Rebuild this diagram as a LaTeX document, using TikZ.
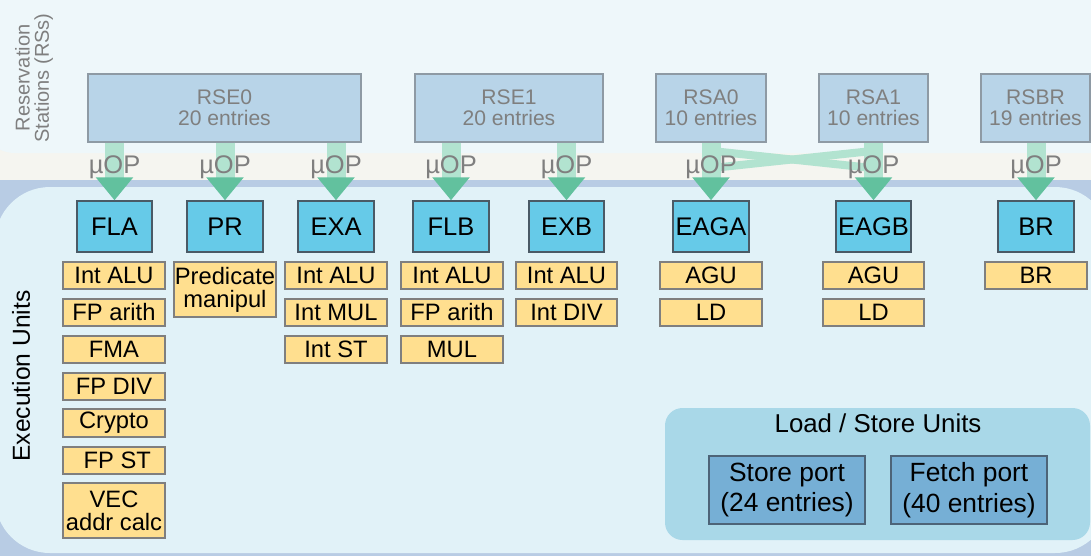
\documentclass[tikz,border=0pt]{standalone}
\usepackage{fontspec}
\setmainfont{Liberation Sans}
\usetikzlibrary{arrows.meta}
\definecolor{topbg}{HTML}{EEF7FA}
\definecolor{beige}{HTML}{F5F5F0}
\definecolor{stripe}{HTML}{B8CCE4}
\definecolor{lowbg}{HTML}{E1F2F8}
\definecolor{lsbg}{HTML}{A9D8E8}
\definecolor{rsfill}{HTML}{B8D4E8}
\definecolor{rsborder}{HTML}{8E9AA4}
\definecolor{graytext}{HTML}{7F7F7F}
\definecolor{eufill}{HTML}{66CAE8}
\definecolor{euborder}{HTML}{4A5A66}
\definecolor{opfill}{HTML}{FFDF8F}
\definecolor{opborder}{HTML}{7F7F7F}
\definecolor{portfill}{HTML}{76AFD5}
\definecolor{portborder}{HTML}{4D6478}
\definecolor{shaft}{HTML}{B2E3D0}
\definecolor{tipgreen}{HTML}{62C19E}
\newcommand\bx[7]{%
  \pgfmathsetmacro\bw{(#4-#2)*0.02}%
  \pgfmathsetmacro\bh{(#5-#3)*0.02}%
  \node[#6,minimum width=\bw cm,minimum height=\bh cm] (#1) at ({(#2+#4)/2},{(#3+#5)/2}) {#7};}
\begin{document}
\begin{tikzpicture}[x=0.02cm,y=-0.02cm,
  rsbox/.style={draw=rsborder,fill=rsfill,text=graytext,line width=0.8pt,inner sep=0pt,align=center,font=\fontsize{12}{12}\selectfont},
  eubox/.style={draw=euborder,fill=eufill,line width=0.8pt,inner sep=0pt,font=\fontsize{14.5}{15}\selectfont},
  opbox/.style={draw=opborder,fill=opfill,line width=0.8pt,inner sep=0pt,align=center,font=\fontsize{13.5}{13}\selectfont},
  portbox/.style={draw=portborder,fill=portfill,line width=0.8pt,inner sep=0pt,align=center,font=\fontsize{15}{17.5}\selectfont},
  uop/.style={draw=shaft,line width=0.38cm,-{Triangle[width=0.72cm,length=0.46cm,fill=tipgreen,color=tipgreen]}},
  crossline/.style={draw=shaft,line width=0.16cm},
  uoplabel/.style={text=graytext,anchor=base,inner sep=0pt,font=\fontsize{14.5}{15}\selectfont}]
\useasboundingbox (0,0) rectangle (1091,556);
% backgrounds
\fill[beige] (0,0) rectangle (1091,556);
\fill[stripe] (0,180) rectangle (1091,556);
\fill[topbg,rounded corners=0.7cm] (-20,-40) rectangle (1130,153);
\fill[lowbg,rounded corners=1.1cm] (-5,187) rectangle (1110,553);
\fill[lsbg,rounded corners=0.35cm] (665,408) rectangle (1090,540);
% side labels
\node[rotate=90,text=graytext,align=center,inner sep=0pt,font=\fontsize{11.4}{11}\selectfont] (rslabel) at (34,78) {Reservation\\Stations (RSs)};
\node[rotate=90,inner sep=0pt,font=\fontsize{14}{15}\selectfont] (eulabel) at (21,376) {Execution Units};
% reservation stations
\bx{rse0}{88}{74}{361}{142}{rsbox}{RSE0\\20 entries}
\bx{rse1}{415}{74}{603}{142}{rsbox}{RSE1\\20 entries}
\bx{rsa0}{656}{74}{766}{142}{rsbox}{RSA0\\10 entries}
\bx{rsa1}{819}{74}{928}{142}{rsbox}{RSA1\\10 entries}
\bx{rsbr}{981}{74}{1090}{142}{rsbox}{RSBR\\19 entries}
% execution units
\bx{fla}{77}{201}{152}{252}{eubox}{FLA}
\bx{pr}{187}{201}{263}{252}{eubox}{PR}
\bx{exa}{298}{201}{374}{252}{eubox}{EXA}
\bx{flb}{413}{201}{489}{252}{eubox}{FLB}
\bx{exb}{529}{201}{604}{252}{eubox}{EXB}
\bx{eaga}{673}{201}{749}{252}{eubox}{EAGA}
\bx{eagb}{836}{201}{911}{252}{eubox}{EAGB}
\bx{br}{998}{201}{1074}{252}{eubox}{BR}
% operations
\bx{fla1}{63}{262}{165}{289}{opbox}{Int ALU}
\bx{fla2}{63}{299}{165}{326}{opbox}{FP arith}
\bx{fla3}{63}{336}{165}{363}{opbox}{FMA}
\bx{fla4}{63}{373}{165}{400}{opbox}{FP DIV}
\bx{fla5}{63}{409}{165}{437}{opbox}{Crypto}
\bx{fla6}{63}{447}{165}{474}{opbox}{\ FP ST}
\bx{fla7}{63}{483}{165}{538}{opbox}{VEC\\addr calc}
\bx{pr1}{174}{262}{276}{317}{opbox}{Predicate\\manipul}
\bx{exa1}{285}{262}{387}{289}{opbox}{Int ALU}
\bx{exa2}{285}{299}{387}{326}{opbox}{Int MUL}
\bx{exa3}{285}{336}{387}{363}{opbox}{Int ST}
\bx{flb1}{401}{262}{503}{289}{opbox}{Int ALU}
\bx{flb2}{401}{299}{503}{326}{opbox}{FP arith}
\bx{flb3}{401}{336}{503}{363}{opbox}{MUL}
\bx{exb1}{516}{262}{617}{289}{opbox}{Int ALU}
\bx{exb2}{516}{299}{617}{326}{opbox}{Int DIV}
\bx{eaga1}{660}{262}{762}{289}{opbox}{AGU}
\bx{eaga2}{660}{299}{762}{326}{opbox}{LD}
\bx{eagb1}{823}{262}{924}{289}{opbox}{AGU}
\bx{eagb2}{823}{299}{924}{326}{opbox}{LD}
\bx{br1}{985}{262}{1087}{289}{opbox}{BR}
% load / store
\node[anchor=base,inner sep=0pt,font=\fontsize{14.7}{15}\selectfont] (lslabel) at (878,432) {Load / Store Units};
\bx{store}{709}{456}{865}{524}{portbox}{Store port\\(24 entries)}
\bx{fetch}{891}{456}{1047}{524}{portbox}{Fetch port\\(40 entries)}
% crossing uop paths
\coordinate (xa) at (712,151);
\coordinate (xb) at (872,168);
\coordinate (xc) at (712,168);
\coordinate (xd) at (872,151);
\draw[crossline] (xa) -- (xb);
\draw[crossline] (xd) -- (xc);
% uop arrows
\draw[uop] (fla.north |- rse0.south) -- (fla.north);
\draw[uop] (pr.north |- rse0.south) -- (pr.north);
\draw[uop] (exa.north |- rse0.south) -- (exa.north);
\draw[uop] (flb.north |- rse1.south) -- (flb.north);
\draw[uop] (exb.north |- rse1.south) -- (exb.north);
\draw[uop] (eaga.north |- rsa0.south) -- (eaga.north);
\draw[uop] (eagb.north |- rsa1.south) -- (eagb.north);
\draw[uop] (br.north |- rsbr.south) -- (br.north);
% uop labels
\node[uoplabel] (u1) at (114.5,173) {µOP};
\node[uoplabel] (u2) at (225,173) {µOP};
\node[uoplabel] (u3) at (336,173) {µOP};
\node[uoplabel] (u4) at (451,173) {µOP};
\node[uoplabel] (u5) at (566.5,173) {µOP};
\node[uoplabel] (u6) at (711,173) {µOP};
\node[uoplabel] (u7) at (873.5,173) {µOP};
\node[uoplabel] (u8) at (1036,173) {µOP};
\end{tikzpicture}
\end{document}
